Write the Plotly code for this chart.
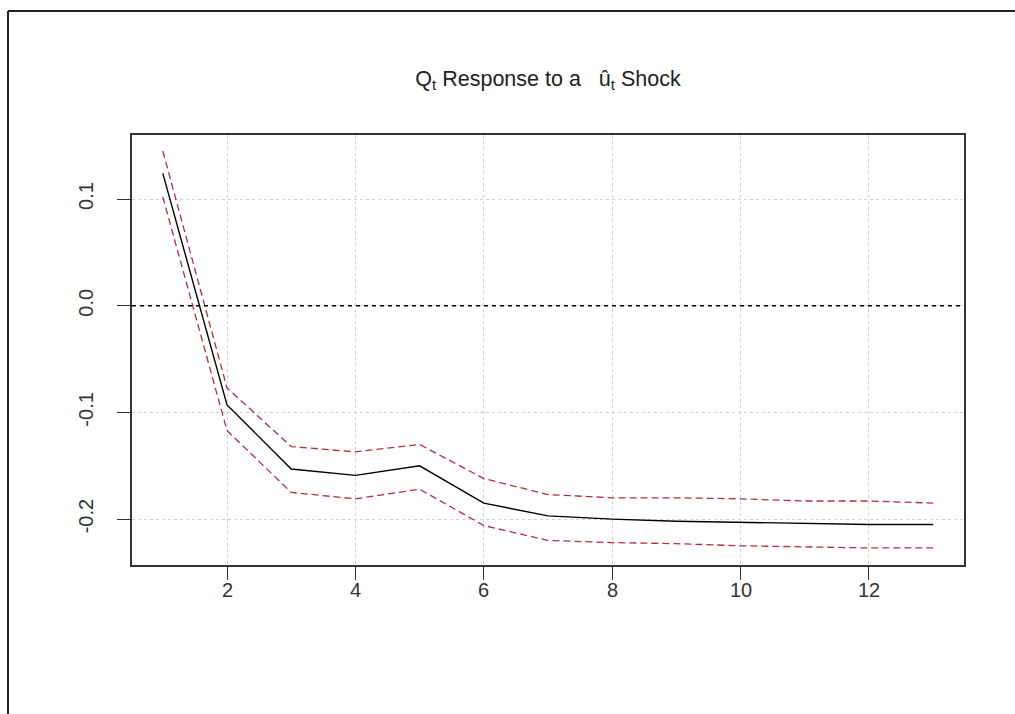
import plotly.graph_objects as go

horizon = list(range(1, 14))
irf = [0.124, -0.093, -0.153, -0.159, -0.150, -0.185, -0.197, -0.200, -0.202, -0.203, -0.204, -0.205, -0.205]
upper = [0.145, -0.077, -0.132, -0.137, -0.130, -0.162, -0.177, -0.180, -0.180, -0.181, -0.183, -0.183, -0.185]
lower = [0.102, -0.117, -0.175, -0.181, -0.172, -0.206, -0.220, -0.222, -0.223, -0.225, -0.226, -0.227, -0.227]
x_ticks = [2, 4, 6, 8, 10, 12]
y_ticks = [-0.2, -0.1, 0.0, 0.1]
y_tick_labels = ["-0.2", "-0.1", "0.0", "0.1"]

red = "#b5302f"
fig = go.Figure()
fig.add_trace(go.Scatter(x=horizon, y=upper, mode="lines",
                         line=dict(color=red, width=1.3, dash="7px,4px")))
fig.add_trace(go.Scatter(x=horizon, y=lower, mode="lines",
                         line=dict(color=red, width=1.3, dash="7px,4px")))
fig.add_trace(go.Scatter(x=horizon, y=irf, mode="lines",
                         line=dict(color="black", width=1.4)))

# zero reference line
fig.add_shape(type="line", xref="paper", x0=0, x1=1, yref="y", y0=0, y1=0,
              line=dict(color="black", width=1.4, dash="4px,4px"), layer="above")

# outer frame (left and top edges visible in the reference)
L, R, T, B = 132, 51, 135, 149
W, H = 1015, 714
pw, ph = W - L - R, H - T - B
def px(x):
    return (x - L) / pw
def py(y):
    return (H - B - y) / ph
fig.add_shape(type="line", xref="paper", yref="paper",
              x0=px(8), x1=px(8), y0=py(11), y1=py(714),
              line=dict(color="#222222", width=2))
fig.add_shape(type="line", xref="paper", yref="paper",
              x0=px(8), x1=px(1015), y0=py(11), y1=py(11),
              line=dict(color="#222222", width=2))

font = "Liberation Sans, Arial, sans-serif"

# x tick labels placed just below the tick marks
for xv in x_ticks:
    fig.add_annotation(x=xv, xref="x", y=0, yref="paper", yshift=-25,
                       text=str(xv), showarrow=False, xanchor="center", yanchor="middle",
                       font=dict(family=font, size=20, color="#333333"))

fig.update_layout(
    width=W, height=H,
    margin=dict(l=L, r=R, t=T, b=B),
    paper_bgcolor="white", plot_bgcolor="white",
    showlegend=False,
    font=dict(family=font, color="#333333", size=16),
    title=dict(text="Q<sub>t</sub> Response to a \u00a0 \u00fb<sub>t</sub> Shock",
               x=0.5, xref="paper", xanchor="center",
               y=1 - 78 / H, yanchor="middle",
               font=dict(family=font, size=21.5, color="#222222")),
)
fig.update_xaxes(range=[0.52, 13.48], tickvals=x_ticks, showticklabels=False,
                 showgrid=True, gridcolor="#d0d0d0", griddash="dot", gridwidth=1,
                 zeroline=False, showline=True, mirror=True,
                 linecolor="#333333", linewidth=1.5,
                 ticks="outside", ticklen=13, tickwidth=1.3, tickcolor="#333333")
fig.update_yaxes(range=[-0.243, 0.160], tickvals=y_ticks, ticktext=y_tick_labels,
                 tickangle=-90,
                 showgrid=True, gridcolor="#d0d0d0", griddash="dot", gridwidth=1,
                 zeroline=False, showline=True, mirror=True,
                 linecolor="#333333", linewidth=1.5,
                 ticks="outside", ticklen=13, tickwidth=1.3, tickcolor="#333333",
                 ticklabelstandoff=16,
                 tickfont=dict(size=20, color="#333333"))

fig.write_html("out.html")
